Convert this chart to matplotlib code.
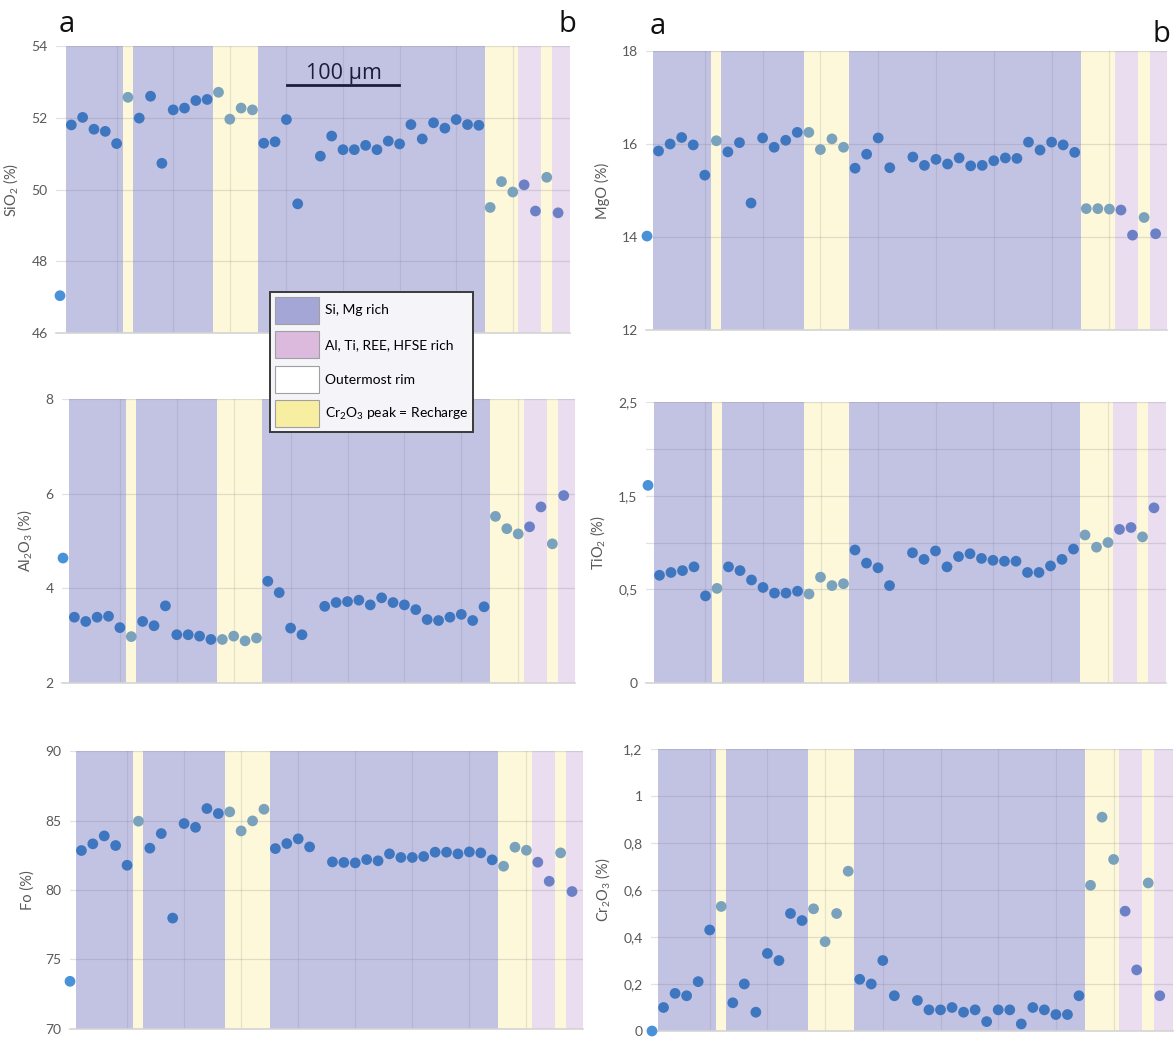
import numpy as np
import matplotlib.pyplot as plt
from matplotlib.patches import Patch

plt.rcParams['font.family'] = ['Lato', 'DejaVu Sans']
plt.rcParams['mathtext.fontset'] = 'custom'
plt.rcParams['mathtext.rm'] = 'Lato'
plt.rcParams['mathtext.it'] = 'Lato'

nan = np.nan
W, H = 1175, 1037

# ---------------------------------------------------------------- data
# analysis spots along the traverse a -> b (index 22 has no analysis)
spot = np.arange(45)

sio2 = [47.04, 51.80, 52.01, 51.68, 51.62, 51.28, 52.57, 51.99, 52.60, 50.73,
        52.22, 52.27, 52.48, 52.51, 52.71, 51.96, 52.27, 52.22, 51.29, 51.33,
        51.95, 49.60, nan, 50.93, 51.49, 51.11, 51.11, 51.23, 51.11, 51.35,
        51.27, 51.81, 51.41, 51.86, 51.71, 51.95, 51.81, 51.79, 49.50, 50.22,
        49.93, 50.13, 49.40, 50.34, 49.35]

mgo = [14.02, 15.85, 16.00, 16.14, 15.98, 15.33, 16.07, 15.83, 16.03, 14.73,
       16.13, 15.93, 16.08, 16.25, 16.25, 15.88, 16.11, 15.93, 15.48, 15.78,
       16.13, 15.49, nan, 15.72, 15.54, 15.67, 15.57, 15.70, 15.53, 15.54,
       15.64, 15.70, 15.69, 16.04, 15.87, 16.04, 15.98, 15.82, 14.61, 14.61,
       14.60, 14.58, 14.04, 14.42, 14.07]

al2o3 = [4.64, 3.39, 3.30, 3.39, 3.41, 3.17, 2.98, 3.30, 3.21, 3.63,
         3.02, 3.02, 2.99, 2.92, 2.92, 2.99, 2.89, 2.95, 4.15, 3.91,
         3.16, 3.02, nan, 3.62, 3.70, 3.72, 3.75, 3.65, 3.80, 3.70,
         3.65, 3.55, 3.34, 3.32, 3.39, 3.45, 3.32, 3.61, 5.52, 5.26,
         5.15, 5.30, 5.72, 4.94, 5.96]

# plotted on the figure's own (0..3) scale, labelled 0 / 0,5 / 1,5 / 2,5
tio2 = [2.11, 1.15, 1.18, 1.20, 1.24, 0.93, 1.01, 1.24, 1.20, 1.10,
        1.02, 0.96, 0.96, 0.98, 0.95, 1.13, 1.04, 1.06, 1.42, 1.28,
        1.23, 1.04, nan, 1.39, 1.32, 1.41, 1.24, 1.35, 1.38, 1.33,
        1.31, 1.30, 1.30, 1.18, 1.18, 1.25, 1.32, 1.43, 1.58, 1.45,
        1.50, 1.64, 1.66, 1.56, 1.87]

fo = [73.43, 82.84, 83.32, 83.89, 83.20, 81.78, 84.95, 83.01, 84.06, 77.98,
      84.78, 84.51, 85.86, 85.50, 85.62, 84.25, 84.97, 85.81, 82.98, 83.34,
      83.68, 83.10, nan, 82.02, 81.98, 81.95, 82.19, 82.10, 82.60, 82.34,
      82.34, 82.41, 82.72, 82.72, 82.60, 82.74, 82.67, 82.17, 81.71, 83.08,
      82.86, 82.00, 80.63, 82.67, 79.89]

cr2o3 = [0.00, 0.10, 0.16, 0.15, 0.21, 0.43, 0.53, 0.12, 0.20, 0.08,
         0.33, 0.30, 0.50, 0.47, 0.52, 0.38, 0.50, 0.68, 0.22, 0.20,
         0.30, 0.15, nan, 0.13, 0.09, 0.09, 0.10, 0.08, 0.09, 0.04,
         0.09, 0.09, 0.03, 0.10, 0.09, 0.07, 0.07, 0.15, 0.62, 0.91,
         0.73, 0.51, 0.26, 0.63, 0.15]

# zones along the profile (spot-index units); left of the first edge = outermost rim
band_edges = [0.5, 5.55, 6.42, 13.55, 17.5, 37.55, 40.47, 42.5, 43.5, 46.0]
band_kind = ['si', 'cr', 'si', 'cr', 'si', 'cr', 'al', 'cr', 'al']

legend_labels = ['Si, Mg rich', 'Al, Ti, REE, HFSE rich', 'Outermost rim',
                 'Cr$_2$O$_3$ peak = Recharge']

# ---------------------------------------------------------------- style
band_col = {'si': '#c2c2e2', 'al': '#e9ddef', 'cr': '#fdf8d9'}
dot_col = {'rim': '#4a92d8', 'si': '#3f76c0', 'al': '#6c80c6', 'cr': '#7ba2bc'}
swatch_col = ['#a4a7d5', '#dcbadd', 'white', '#f8eea2']
txt_grey = '#595959'


def comma(v):
    return ('%g' % v).replace('.', ',')


def zone_of(x):
    if x < band_edges[0]:
        return 'rim'
    for k in range(len(band_kind)):
        if band_edges[k] <= x < band_edges[k + 1]:
            return band_kind[k]
    return band_kind[-1]


# (values, ylabel, ylim, tick values, tick labels, grid values, px box)
# px box: left spine, right edge, top, bottom, x of spot 0, spot spacing
panels = [
    (sio2, 'SiO$_2$ (%)', (46, 54), [46, 48, 50, 52, 54], None, [48, 50, 52, 54],
     (56, 570, 46, 333, 60, 11.32)),
    (al2o3, 'Al$_2$O$_3$ (%)', (2, 8), [2, 4, 6, 8], None, [4, 6, 8],
     (62, 575, 399, 683, 63, 11.38)),
    (fo, 'Fo (%)', (70, 90), [70, 75, 80, 85, 90], None, [75, 80, 85, 90],
     (70, 583, 751, 1029, 70, 11.41)),
    (mgo, 'MgO (%)', (12, 18), [12, 14, 16, 18], None, [14, 16, 18],
     (646, 1167, 51, 330, 647, 11.56)),
    (tio2, 'TiO$_2$ (%)', (0, 3), [0, 1, 2, 3], ['0', '0,5', '1,5', '2,5'],
     [1, 1.5, 2, 2.5, 3], (646, 1166, 402, 683, 648, 11.5)),
    (cr2o3, 'Cr$_2$O$_3$ (%)', (0, 1.2), [0, 0.2, 0.4, 0.6, 0.8, 1.0, 1.2], None,
     [0.2, 0.4, 0.6, 0.8, 1.0, 1.2], (651, 1173, 749, 1031, 652, 11.54)),
]

fig = plt.figure(figsize=(W / 100, H / 100), dpi=100)

for vals, ylab, ylim, ticks, tlabels, grid, box in panels:
    left, right, top, bottom, x0, sp = box
    ax = fig.add_axes([left / W, 1 - bottom / H, (right - left) / W, (bottom - top) / H])
    xl = ((left - x0) / sp, (right - x0) / sp)
    ax.set_xlim(xl)
    ax.set_ylim(ylim)

    # zone bands
    for k, kind in enumerate(band_kind):
        ax.axvspan(band_edges[k], min(band_edges[k + 1], xl[1]), color=band_col[kind],
                   lw=0, zorder=1)
    # grid lines showing through the bands
    for g in grid:
        ax.axhline(g, color='#7a7a90', alpha=0.22, lw=0.9, zorder=2)
    for g in range(5, 45, 5):
        ax.axvline(g, color='#7a7a90', alpha=0.18, lw=0.9, zorder=2)

    v = np.array(vals, dtype=float)
    cols = [dot_col[zone_of(i)] for i in spot]
    ax.scatter(spot, v, s=60, c=cols, lw=0, zorder=3, clip_on=False)

    ax.set_yticks(ticks)
    ax.set_yticklabels(tlabels if tlabels else [comma(t) for t in ticks])
    ax.set_xticks([])
    ax.tick_params(axis='y', length=0, pad=6, labelsize=10, labelcolor=txt_grey)
    for s in ['left', 'top', 'right']:
        ax.spines[s].set_visible(False)
    ax.spines['bottom'].set_color('#d4d4d4')
    ax.spines['bottom'].set_linewidth(1.2)
    ax.set_ylabel(ylab, fontsize=10.5, color=txt_grey, labelpad=8)

# traverse end labels
for x, y, s in [(67, 32, 'a'), (567, 32, 'b'), (658, 34, 'a'), (1161, 42, 'b')]:
    fig.text(x / W, 1 - y / H, s, fontsize=21, family='Open Sans', color='#111111',
             ha='center', va='baseline')

# scale bar
fig.add_artist(plt.Line2D([287 / W, 399 / W], [1 - 85 / H, 1 - 85 / H], color='#1c1c3c',
                          lw=2.0, transform=fig.transFigure))
fig.text(344 / W, 1 - 79 / H, '100 µm', fontsize=15.5, family='Open Sans', color='#1c1c3c',
         ha='center', va='baseline')

handles = [Patch(facecolor=c, edgecolor='#a0a0a0', lw=0.8) for c in swatch_col]
leg = fig.legend(handles, legend_labels, loc='upper left',
                 bbox_to_anchor=(270 / W, 1 - 292 / H), borderaxespad=0,
                 prop={'family': 'Lato', 'size': 10},
                 handlelength=3.2, handleheight=2.6, labelspacing=0.55,
                 handletextpad=0.4, borderpad=0.35, fancybox=False, framealpha=1)
leg.get_frame().set_edgecolor('#3a3a3a')
leg.get_frame().set_linewidth(1.4)
leg.get_frame().set_facecolor('#f4f4f9')
leg.set_zorder(10)

fig.savefig('out.png', dpi=100)
